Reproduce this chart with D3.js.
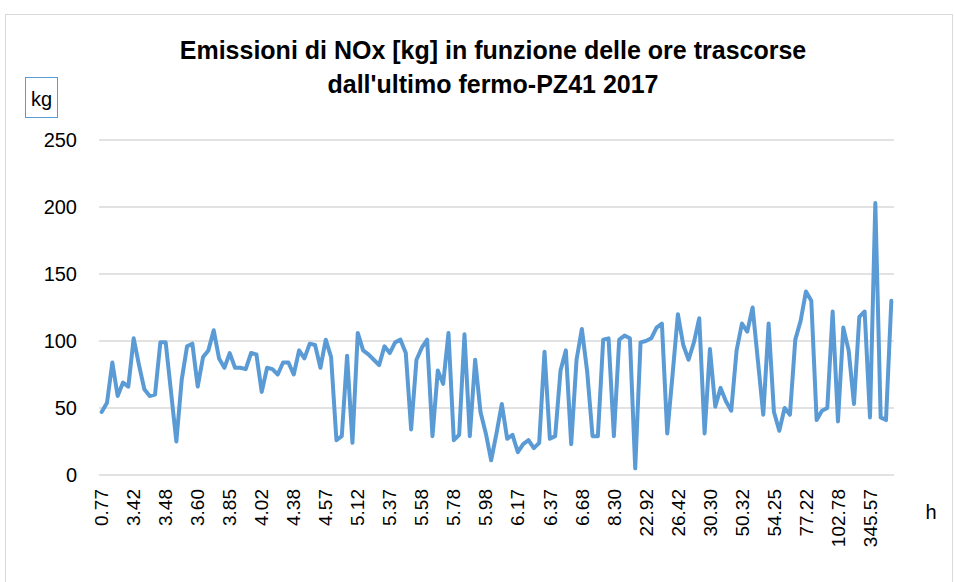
<!DOCTYPE html>
<html>
<head>
<meta charset="utf-8">
<script src="https://cdn.jsdelivr.net/npm/d3@7"></script>
<style>
  body { margin: 0; background: #fff; }
  svg text { font-family: "Liberation Sans", Arial, sans-serif; fill: #000; }
</style>
</head>
<body>
<div id="chart"></div>
<script>
// tick labels shown on the category axis (one every 6 points)
const tickLabels = ["0.77","3.42","3.48","3.60","3.85","4.02","4.38","4.57","5.12","5.37",
  "5.58","5.78","5.98","6.17","6.37","6.68","8.30","22.92","26.42","30.30",
  "50.32","54.25","77.22","102.78","345.57"];
const tickEvery = 6;

// NOx emissions [kg], one value per stop interval
const noxKg = [
  47,54,84,59,69,66,102,82,64,59,
  60,99,99,62,25,71,96,98,66,88,
  93,108,87,80,91,80,80,79,91,90,
  62,80,79,75,84,84,75,93,87,98,
  97,80,101,88,26,29,89,24,106,93,
  90,86,82,96,91,99,101,91,34,86,
  95,101,29,78,68,106,26,30,105,29,
  86,47,31,11,31,53,27,30,17,23,
  26,20,24,92,27,29,78,93,23,86,
  109,77,29,29,101,102,29,101,104,102,
  5,99,100,102,110,113,31,75,120,97,
  86,99,117,31,94,51,65,55,48,93,
  113,107,125,85,45,113,47,33,50,45,
  101,115,137,130,41,48,50,122,40,110,
  93,53,118,122,43,203,43,41,130];

const yTicks = [0, 50, 100, 150, 200, 250];
const titleLines = ["Emissioni di NOx [kg] in funzione delle ore trascorse",
                    "dall'ultimo fermo-PZ41 2017"];

const W = 955, H = 582;
const plot = {left: 99, right: 894, top: 140, bottom: 475};

const svg = d3.select("#chart").append("svg")
  .attr("width", W).attr("height", H);

// chart frame
svg.append("rect")
  .attr("x", 5.5).attr("y", 14.5)
  .attr("width", 947).attr("height", 600)
  .attr("fill", "#fff").attr("stroke", "#d9d9d9").attr("stroke-width", 1);

const x = d3.scaleBand()
  .domain(d3.range(noxKg.length))
  .range([plot.left, plot.right])
  .padding(0);
const y = d3.scaleLinear().domain([0, 250]).range([plot.bottom, plot.top]);
const cx = i => x(i) + x.bandwidth() / 2;

// gridlines + value labels
const gy = svg.append("g").classed("y-axis", true);
gy.selectAll("line").data(yTicks).enter().append("line")
  .attr("x1", plot.left).attr("x2", plot.right)
  .attr("y1", d => y(d)).attr("y2", d => y(d))
  .attr("stroke", "#d9d9d9").attr("stroke-width", 1.5);
gy.selectAll("text").data(yTicks).enter().append("text")
  .attr("x", 77).attr("y", d => y(d)).attr("dy", "0.35em")
  .attr("text-anchor", "end").style("font-size", "20px")
  .text(d => d);

// category labels, rotated
const shown = tickLabels.map((t, j) => ({t, i: j * tickEvery}));
svg.append("g").classed("x-axis", true)
  .selectAll("text").data(shown).enter().append("text")
  .attr("transform", d => "translate(" + cx(d.i) + ",489) rotate(-90)")
  .attr("dy", "0.35em").attr("text-anchor", "end")
  .style("font-size", "19px")
  .text(d => d.t);

// the series
const line = d3.line().x((d, i) => cx(i)).y(d => y(d));
svg.append("path")
  .datum(noxKg)
  .attr("d", line)
  .attr("fill", "none").attr("stroke", "#5b9bd5")
  .attr("stroke-width", 4)
  .attr("stroke-linejoin", "round").attr("stroke-linecap", "round");

// title
svg.append("g").selectAll("text").data(titleLines).enter().append("text")
  .attr("x", 493).attr("y", (d, i) => 59 + i * 34)
  .attr("text-anchor", "middle")
  .style("font-size", "25px").style("font-weight", "bold")
  .text(d => d);

// unit box
svg.append("rect")
  .attr("x", 25.5).attr("y", 77.5).attr("width", 32).attr("height", 40)
  .attr("fill", "#fff").attr("stroke", "#5b9bd5").attr("stroke-width", 1);
svg.append("text")
  .attr("x", 41.5).attr("y", 106).attr("text-anchor", "middle")
  .style("font-size", "20px").text("kg");

svg.append("text")
  .attr("x", 931).attr("y", 519).attr("text-anchor", "middle")
  .style("font-size", "20px").text("h");
</script>
</body>
</html>
